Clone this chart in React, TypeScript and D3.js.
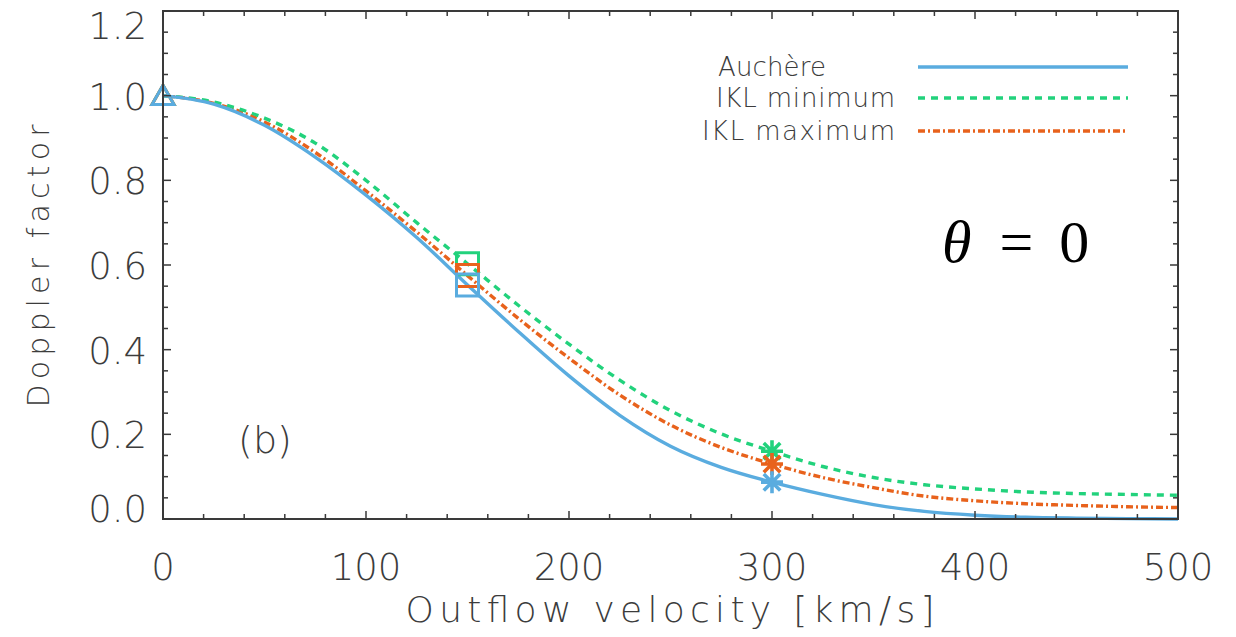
import * as d3 from "d3";

// outflow velocity samples [km/s]
const velocity = [0, 25, 50, 75, 100, 125, 150, 175, 200, 225, 250, 275, 300, 325, 350, 375, 400, 425, 450, 475, 500];

// Doppler factor
const auchere = [1.0, 0.98, 0.93, 0.855, 0.765, 0.665, 0.553, 0.443, 0.338, 0.245, 0.172, 0.122, 0.087, 0.058, 0.034, 0.018, 0.009, 0.004, 0.002, 0.001, 0.0];
const iklMin = [1.0, 0.985, 0.947, 0.888, 0.8, 0.7, 0.603, 0.505, 0.413, 0.328, 0.256, 0.201, 0.16, 0.124, 0.098, 0.081, 0.071, 0.064, 0.06, 0.058, 0.056];
const iklMax = [1.0, 0.982, 0.938, 0.866, 0.775, 0.678, 0.575, 0.474, 0.38, 0.293, 0.222, 0.169, 0.13, 0.098, 0.074, 0.054, 0.043, 0.036, 0.032, 0.029, 0.027];

const seriesNames = ["Auchère", "IKL minimum", "IKL maximum"];
const markerVelocities = [0, 150, 300]; // triangle, square, asterisk

const xTicks = [0, 100, 200, 300, 400, 500];
const yTicks = [0, 0.2, 0.4, 0.6, 0.8, 1.0, 1.2];

const W = 1236;
const H = 637;
const left = 163;
const right = 1178;
const top = 11;
const bottom = 519;

const axisColor = "#3a3a3a";
const textColor = "#3c3c3c";
const font = "'DejaVu Sans', sans-serif";
const weight = 200;

const series = [
  { name: seriesNames[0], values: auchere, color: "#5aacdf", dash: "none", legendX: 718, legendLen: 108 },
  { name: seriesNames[1], values: iklMin, color: "#22d27c", dash: "7 6", legendX: 716, legendLen: 179 },
  { name: seriesNames[2], values: iklMax, color: "#e8621c", dash: "7 3 2 3", legendX: 702, legendLen: 193 },
];

function markerPath(kind: number, r: number) {
  if (kind === 0) {
    const h = r * 0.95;
    return `M0,${-h} L${r},${h * 0.85} L${-r},${h * 0.85} Z`;
  }
  if (kind === 1) return `M${-r},${-r} H${r} V${r} H${-r} Z`;
  const d = r * 0.75;
  return `M${-r},0 H${r} M0,${-r} V${r} M${-d},${-d} L${d},${d} M${-d},${d} L${d},${-d}`;
}

export default function App() {
  const x = d3.scaleLinear().domain([0, 500]).range([left, right]);
  const y = d3.scaleLinear().domain([0, 1.2]).range([bottom, top]);

  const line = d3
    .line<number>()
    .x((_, i) => x(velocity[i]))
    .y((d) => y(d))
    .curve(d3.curveMonotoneX);

  const xMinor = d3.range(0, 501, 20);
  const yMinor = d3.range(0, 1.2001, 0.05);

  // markers drawn green, orange, then blue on top
  const markerOrder = [1, 2, 0];

  return (
    <svg width={W} height={H} style={{ position: "absolute", left: 0, top: 0, background: "#fff" }}>
      {/* curves */}
      <g fill="none">
        {series
          .slice()
          .reverse()
          .map((s) => (
            <path
              key={s.name}
              d={line(s.values) ?? ""}
              stroke={s.color}
              strokeWidth={3.4}
              strokeDasharray={s.dash}
            />
          ))}
      </g>

      {/* markers */}
      <g fill="none" strokeWidth={3}>
        {markerOrder.map((si) =>
          markerVelocities.map((v, k) => {
            const idx = velocity.indexOf(v);
            const s = series[si];
            return (
              <path
                key={`${si}-${k}`}
                d={markerPath(k, 11)}
                transform={`translate(${x(v)},${y(s.values[idx])})`}
                stroke={s.color}
                strokeWidth={k === 2 ? 3.6 : 3}
              />
            );
          })
        )}
      </g>

      {/* axis box */}
      <rect x={left} y={top} width={right - left} height={bottom - top} fill="none" stroke={axisColor} strokeWidth={2} />

      {/* ticks on all four sides */}
      <g stroke={axisColor} strokeWidth={1.5}>
        {xMinor.map((v) => {
          const len = v % 100 === 0 ? 8 : 5;
          return (
            <g key={v}>
              <line x1={x(v)} x2={x(v)} y1={bottom} y2={bottom - len} />
              <line x1={x(v)} x2={x(v)} y1={top} y2={top + len} />
            </g>
          );
        })}
        {yMinor.map((v, i) => {
          const len = i % 4 === 0 ? 8 : 5;
          return (
            <g key={i}>
              <line x1={left} x2={left + len} y1={y(v)} y2={y(v)} />
              <line x1={right} x2={right - len} y1={y(v)} y2={y(v)} />
            </g>
          );
        })}
      </g>

      {/* tick labels */}
      <g fill={textColor} fontFamily={font} fontWeight={weight} fontSize={37}>
        {xTicks.map((v) => (
          <text key={v} x={x(v)} y={580} textAnchor="middle">
            {v}
          </text>
        ))}
        {yTicks.map((v) => {
          const yy = Math.min(Math.max(y(v), top + 14), bottom - 11);
          return (
            <text key={v} x={147} y={yy + 14} textAnchor="end">
              {v.toFixed(1)}
            </text>
          );
        })}
      </g>

      {/* axis titles */}
      <text
        x={670}
        y={622}
        textAnchor="middle"
        fill={textColor}
        fontFamily={font}
        fontWeight={weight}
        fontSize={36}
        textLength={529}
        lengthAdjust="spacing"
      >
        Outflow velocity [km/s]
      </text>
      <text
        transform="translate(49,266) rotate(-90)"
        textAnchor="middle"
        fill={textColor}
        fontFamily={font}
        fontWeight={weight}
        fontSize={30}
        textLength={283}
        lengthAdjust="spacing"
      >
        Doppler factor
      </text>

      {/* panel label */}
      <text x={265} y={453} textAnchor="middle" fill={textColor} fontFamily={font} fontWeight={weight} fontSize={38}>
        (b)
      </text>

      {/* legend */}
      <g fontFamily={font} fontWeight={weight} fontSize={26} fill={textColor}>
        {series.map((s, i) => {
          const ly = [67, 98, 131][i];
          return (
            <g key={s.name}>
              <text x={s.legendX} y={ly + 9} textLength={s.legendLen} lengthAdjust="spacing">
                {s.name}
              </text>
              <line x1={918} x2={1128} y1={ly} y2={ly} stroke={s.color} strokeWidth={3.4} strokeDasharray={s.dash} />
            </g>
          );
        })}
      </g>

      {/* angle annotation */}
      <text x={942} y={262} fontFamily="'Liberation Serif', 'DejaVu Serif', serif" fontSize={60} fill="#000">
        <tspan fontStyle="italic">θ</tspan>
        <tspan dx={28}>=</tspan>
        <tspan dx={26}>0</tspan>
      </text>
    </svg>
  );
}
